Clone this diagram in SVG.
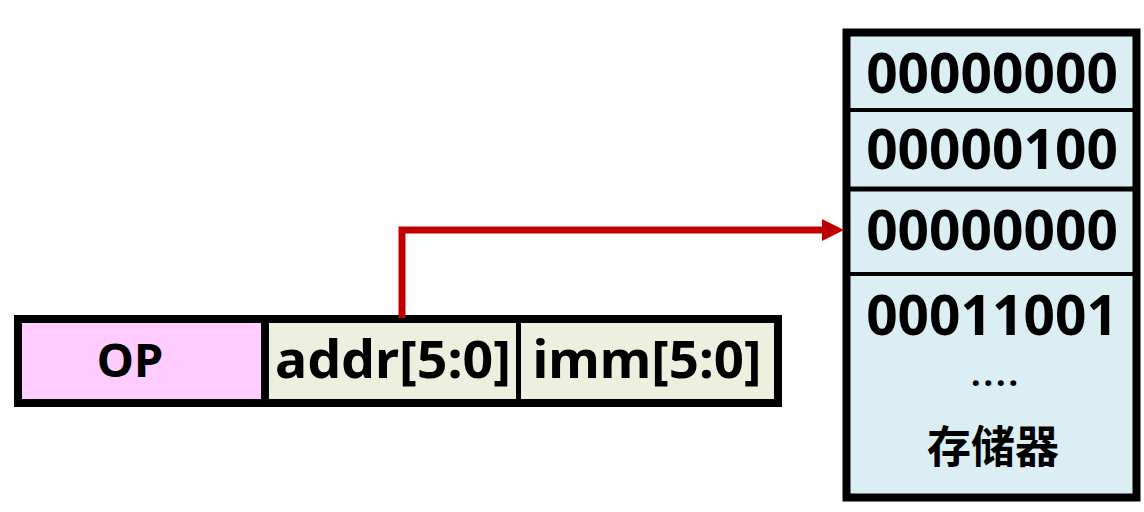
<svg xmlns="http://www.w3.org/2000/svg" width="1144" height="512" viewBox="0 0 1144 512">
<style>
.t{font-family:"Noto Sans","Liberation Sans",sans-serif;font-weight:bold;fill:#000;text-anchor:middle}
.cjk{font-family:"Noto Sans CJK SC",sans-serif;font-weight:bold;fill:#000;text-anchor:middle}
.box{stroke:#000;stroke-width:8}
.div{stroke:#000}
</style>
<rect width="1144" height="512" fill="#fff"/>
<g id="instruction">
<rect x="18" y="319" width="247" height="84" fill="#FFCCFF"/>
<rect x="265" y="319" width="253" height="84" fill="#EBF1DE"/>
<rect x="518" y="319" width="260" height="84" fill="#EBF1DE"/>
<rect class="box" x="18" y="319" width="760" height="84" fill="none"/>
<line class="div" x1="265" y1="319" x2="265" y2="403" stroke-width="8"/>
<line class="div" x1="518.5" y1="319" x2="518.5" y2="403" stroke-width="5"/>
<text class="t" x="130" y="377" font-size="47">OP</text>
<text class="t" x="393" y="378" font-size="52" textLength="236" lengthAdjust="spacingAndGlyphs">addr[5:0]</text>
<text class="t" x="647" y="378" font-size="52" textLength="229" lengthAdjust="spacingAndGlyphs">imm[5:0]</text>
</g>
<g id="memory">
<rect class="box" x="846.5" y="32.5" width="290" height="465" fill="#DAEEF3" stroke-width="9"/>
<line class="div" x1="846" y1="110" x2="1137" y2="110" stroke-width="4"/>
<line class="div" x1="846" y1="189" x2="1137" y2="189" stroke-width="5"/>
<line class="div" x1="846" y1="274" x2="1137" y2="274" stroke-width="4"/>
<text class="t" x="992" y="93" font-size="55">00000000</text>
<text class="t" x="992" y="169" font-size="55">00000100</text>
<text class="t" x="992" y="250" font-size="55">00000000</text>
<text class="t" x="992" y="335" font-size="55">00011001</text>
<text class="t" x="996" y="386" font-size="34" letter-spacing="3">....</text>
<text class="cjk" x="993" y="463" font-size="44">存储器</text>
</g>
<g id="connectors">
<path d="M402,318 V230 H826" fill="none" stroke="#C00000" stroke-width="7"/>
<polygon points="822,219 844,230 822,241" fill="#C00000"/>
</g>
</svg>
